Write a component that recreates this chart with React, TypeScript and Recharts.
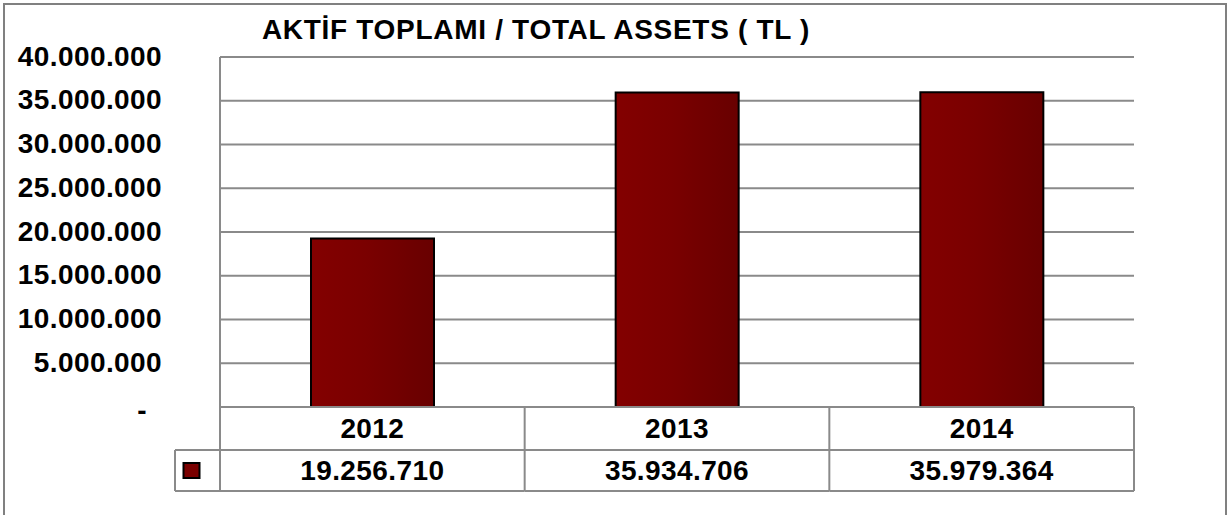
import React from "react";
import { BarChart, Bar, XAxis, YAxis, CartesianGrid } from "recharts";

const categories = ["2012", "2013", "2014"];
const assets = [19256710, 35934706, 35979364];
const valueLabels = ["19.256.710", "35.934.706", "35.979.364"];
const yTicks = [0, 5000000, 10000000, 15000000, 20000000, 25000000, 30000000, 35000000, 40000000];
const yTickLabels = ["-", "5.000.000", "10.000.000", "15.000.000", "20.000.000", "25.000.000", "30.000.000", "35.000.000", "40.000.000"];
const title = "AKTİF TOPLAMI / TOTAL ASSETS ( TL )";

const data = categories.map((c, i) => ({ year: c, value: assets[i], label: valueLabels[i] }));

const W = 1230;
const H = 515;
const X_H = 84;
const M = { top: 57, right: 96, bottom: 108 - X_H, left: 20 };
const Y_W = 200;
const PLOT_W = W - M.left - M.right - Y_W;
const BAND = PLOT_W / categories.length;
const GRID = "#8a8a8a";
const FONT = "'Liberation Sans', Arial, sans-serif";
const FS = 28;
const LS = 0.4;

const YTick = (props: any) => {
  const { x, y, payload } = props;
  const idx = yTicks.indexOf(payload.value);
  const label = yTickLabels[idx] ?? "";
  const isZero = payload.value === 0;
  return (
    <text
      x={isZero ? x - 73 : x - 58}
      y={y + (isZero ? 3 : -1)}
      textAnchor="end"
      dominantBaseline="central"
      fontFamily={FONT}
      fontWeight="bold"
      fontSize={FS}
      letterSpacing={LS}
      fill="#000"
    >
      {label}
    </text>
  );
};

const XTick = (props: any) => {
  const { x, y, payload, index } = props;
  const left = x - BAND / 2;
  const right = x + BAND / 2;
  const row1 = y + 43;
  const row2 = y + 84;
  const item = data[index];
  return (
    <g>
      <line x1={right} y1={y} x2={right} y2={row2} stroke={GRID} strokeWidth={2} />
      <line x1={left} y1={row1} x2={right} y2={row1} stroke={GRID} strokeWidth={2} />
      <line x1={left} y1={row2} x2={right} y2={row2} stroke={GRID} strokeWidth={2} />
      {index === 0 && (
        <g>
          <line x1={left} y1={y} x2={left} y2={row2} stroke={GRID} strokeWidth={2} />
          <line x1={left - 45} y1={row1} x2={left} y2={row1} stroke={GRID} strokeWidth={2} />
          <line x1={left - 45} y1={row2} x2={left} y2={row2} stroke={GRID} strokeWidth={2} />
          <line x1={left - 45} y1={row1} x2={left - 45} y2={row2} stroke={GRID} strokeWidth={2} />
          <rect x={left - 36.5} y={row1 + 13} width={16} height={15} fill="#7a0000" stroke="#000" strokeWidth={2} />
        </g>
      )}
      <text
        x={x}
        y={y + 21}
        textAnchor="middle"
        dominantBaseline="central"
        fontFamily={FONT}
        fontWeight="bold"
        fontSize={FS}
        letterSpacing={LS}
        fill="#000"
      >
        {payload.value}
      </text>
      <text
        x={x}
        y={y + 63}
        textAnchor="middle"
        dominantBaseline="central"
        fontFamily={FONT}
        fontWeight="bold"
        fontSize={FS}
        letterSpacing={LS}
        fill="#000"
      >
        {item ? item.label : ""}
      </text>
    </g>
  );
};

export default function App() {
  return (
    <div style={{ position: "absolute", left: 0, top: 0, width: W, height: H, overflow: "hidden", background: "#fff" }}>
      <div
        style={{
          position: "absolute",
          left: 3,
          top: 3,
          width: W - 6,
          height: H + 20,
          border: "2px solid #808080",
          boxSizing: "border-box",
        }}
      />
      <div
        style={{
          position: "absolute",
          left: 0,
          top: 13,
          width: 1072,
          textAlign: "center",
          fontFamily: FONT,
          fontWeight: "bold",
          fontSize: 28,
          letterSpacing: 0.7,
          color: "#000",
          lineHeight: "34px",
        }}
      >
        {title}
      </div>
      <div style={{ position: "absolute", left: 0, top: 0 }}>
        <BarChart width={W} height={H} data={data} margin={M} barSize={123}>
          <defs>
            <linearGradient id="barGrad" x1="0" y1="0" x2="1" y2="0">
              <stop offset="0%" stopColor="#830000" />
              <stop offset="45%" stopColor="#7a0000" />
              <stop offset="100%" stopColor="#680000" />
            </linearGradient>
          </defs>
          <CartesianGrid vertical={false} stroke={GRID} strokeWidth={2} yAxisId={0} />
          <XAxis
            dataKey="year"
            axisLine={{ stroke: GRID, strokeWidth: 2 }}
            tickLine={false}
            tickSize={0}
            tickMargin={0}
            interval={0}
            tick={<XTick />}
            height={X_H}
          />
          <YAxis
            yAxisId={0}
            width={Y_W}
            domain={[0, 40000000]}
            ticks={yTicks}
            interval={0}
            axisLine={{ stroke: GRID, strokeWidth: 2 }}
            tickLine={false}
            tickSize={0}
            tickMargin={0}
            tick={<YTick />}
          />
          <YAxis
            yAxisId="r"
            orientation="right"
            width={0}
            domain={[0, 40000000]}
            tick={false}
            tickLine={false}
            axisLine={{ stroke: GRID, strokeWidth: 2 }}
          />
          <Bar
            dataKey="value"
            yAxisId={0}
            fill="url(#barGrad)"
            stroke="#000"
            strokeWidth={2}
            isAnimationActive={false}
          />
        </BarChart>
      </div>
    </div>
  );
}
